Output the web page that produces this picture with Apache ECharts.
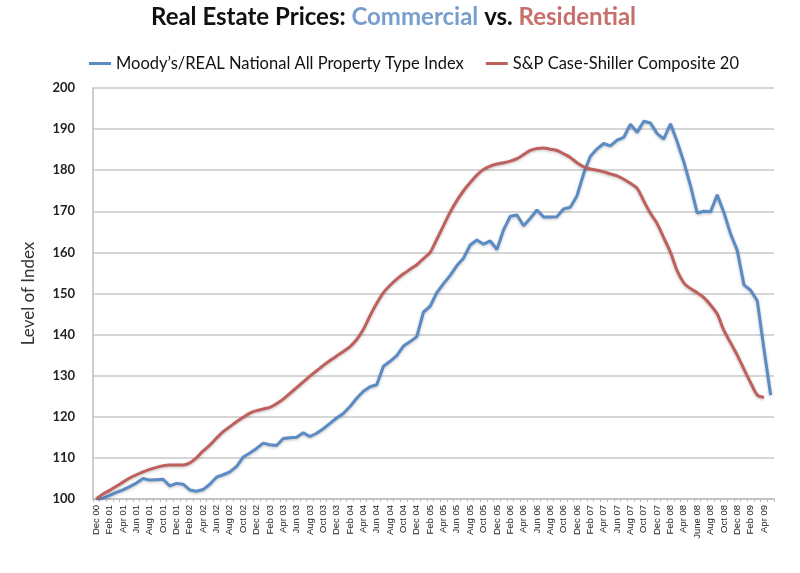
<!DOCTYPE html>
<html><head><meta charset="utf-8">
<script src="https://cdn.jsdelivr.net/npm/echarts@6/dist/echarts.min.js"></script>
<style>html,body{margin:0;padding:0;background:#fff}#c{width:800px;height:573px}</style>
</head><body><div id="c"></div>
<script>
var months = [
"Dec 00","Jan 01","Feb 01","Mar 01","Apr 01","May 01","Jun 01","Jul 01","Aug 01","Sep 01","Oct 01","Nov 01",
"Dec 01","Jan 02","Feb 02","Mar 02","Apr 02","May 02","Jun 02","Jul 02","Aug 02","Sep 02","Oct 02","Nov 02",
"Dec 02","Jan 03","Feb 03","Mar 03","Apr 03","May 03","Jun 03","Jul 03","Aug 03","Sep 03","Oct 03","Nov 03",
"Dec 03","Jan 04","Feb 04","Mar 04","Apr 04","May 04","Jun 04","Jul 04","Aug 04","Sep 04","Oct 04","Nov 04",
"Dec 04","Jan 05","Feb 05","Mar 05","Apr 05","May 05","Jun 05","Jul 05","Aug 05","Sep 05","Oct 05","Nov 05",
"Dec 05","Jan 06","Feb 06","Mar 06","Apr 06","May 06","Jun 06","Jul 06","Aug 06","Sep 06","Oct 06","Nov 06",
"Dec 06","Jan 07","Feb 07","Mar 07","Apr 07","May 07","Jun 07","Jul 07","Aug 07","Sep 07","Oct 07","Nov 07",
"Dec 07","Jan 08","Feb 08","Mar 08","Apr 08","May 08","June 08","Jul 08","Aug 08","Sep 08","Oct 08","Nov 08",
"Dec 08","Jan 09","Feb 09","Mar 09","Apr 09","May 09"];

var commercial = [
100,100.2,100.9,101.6,102.2,103.0,103.9,105.0,104.6,104.7,104.8,103.2,
103.8,103.6,102.2,101.9,102.3,103.6,105.3,105.9,106.6,107.9,110.2,111.2,
112.3,113.6,113.2,113.0,114.7,114.9,115.0,116.1,115.2,116.0,117.1,118.4,
119.7,120.8,122.5,124.5,126.2,127.3,127.8,132.3,133.5,134.9,137.2,138.3,
139.5,145.5,146.9,150.2,152.4,154.4,156.8,158.6,161.8,163.0,162.0,162.8,
160.7,165.5,168.8,169.1,166.5,168.3,170.3,168.6,168.6,168.7,170.6,171.0,
173.8,179.2,183.4,185.2,186.5,185.9,187.3,188.0,191.2,189.2,191.9,191.5,
188.9,187.6,191.3,186.9,182.0,176.2,169.6,170.0,169.9,174.0,169.7,164.5,
160.5,152.1,150.8,148.2,136.5,125.3];

var residential = [
100,101.2,102.1,103.1,104.1,105.1,105.9,106.6,107.2,107.7,108.1,108.3,
108.3,108.3,108.8,110.0,111.7,113.1,114.8,116.4,117.6,118.8,119.9,120.9,
121.5,121.9,122.3,123.2,124.3,125.7,127.1,128.5,129.9,131.2,132.5,133.7,
134.8,135.9,137.1,138.8,141.3,144.6,147.6,150.2,152.0,153.5,154.8,155.9,
157.0,158.5,160.0,163.2,166.5,169.8,172.6,175.0,177.0,178.8,180.2,181.0,
181.5,181.8,182.2,182.8,183.8,184.8,185.3,185.4,185.1,184.8,184.0,183.1,
181.8,180.8,180.3,180.0,179.6,179.1,178.6,177.8,176.8,175.6,172.5,169.5,
167.0,163.5,160.0,155.5,152.6,151.2,150.2,149.0,147.2,145.0,141.0,138.0,
135.0,131.6,128.3,125.3,124.7];

var seriesNames = ["Moody\u2019s/REAL National All Property Type Index","S&P Case-Shiller Composite 20"];
var yTicks = {min:100, max:200, interval:10};

var chart = echarts.init(document.getElementById('c'), null, {renderer:'canvas'});
chart.setOption({
  animation:false,
  backgroundColor:'#fff',
  title:{
    left:146, top:0,
    text:'{a|Real Estate Prices: }{b|Commercial}{a| vs. }{c|Residential}',
    textStyle:{
      rich:{
        a:{fontFamily:'Lato',fontWeight:'bold',fontSize:24,color:'#111'},
        b:{fontFamily:'Lato',fontWeight:'bold',fontSize:24,color:'#779fcd'},
        c:{fontFamily:'Lato',fontWeight:'bold',fontSize:24,color:'#c86f6b'}
      }
    }
  },
  legend:{
    top:50, left:84, itemGap:22, itemWidth:22, itemHeight:3,
    icon:'rect',
    textStyle:{fontFamily:'Lato',fontSize:16.5,color:'#111'},
    data:seriesNames
  },
  grid:{left:93,right:26,top:88,bottom:74},
  xAxis:{
    type:'category', data:months, boundaryGap:true,
    axisLine:{lineStyle:{color:'#bdbdbd',width:1.5}},
    axisTick:{show:true,interval:0,length:3,lineStyle:{color:'#bdbdbd'}},
    axisLabel:{interval:1,rotate:90,fontFamily:'Liberation Sans',fontSize:9.5,color:'#222',margin:6}
  },
  yAxis:{
    type:'value', min:yTicks.min, max:yTicks.max, interval:yTicks.interval,
    name:'Level of Index', nameLocation:'middle', nameGap:56,
    nameTextStyle:{fontFamily:'Lato',fontSize:17,color:'#333'},
    axisLine:{show:true,lineStyle:{color:'#bdbdbd',width:1.5}},
    axisTick:{show:false},
    axisLabel:{fontFamily:'Lato',fontWeight:'bold',fontSize:13,color:'#222',margin:18},
    splitLine:{lineStyle:{color:'#c8c8c8',width:1.5}}
  },
  series:[
    {name:seriesNames[0],type:'line',data:commercial,symbol:'none',
     itemStyle:{color:'#5b8bc5'},
     lineStyle:{color:'#5b8bc5',width:3,shadowColor:'rgba(0,0,0,0.25)',shadowBlur:3,shadowOffsetY:1}},
    {name:seriesNames[1],type:'line',data:residential,symbol:'none',smooth:0.3,
     itemStyle:{color:'#c0605c'},
     lineStyle:{color:'#c0605c',width:3,shadowColor:'rgba(0,0,0,0.25)',shadowBlur:3,shadowOffsetY:1}}
  ]
});
</script></body></html>
